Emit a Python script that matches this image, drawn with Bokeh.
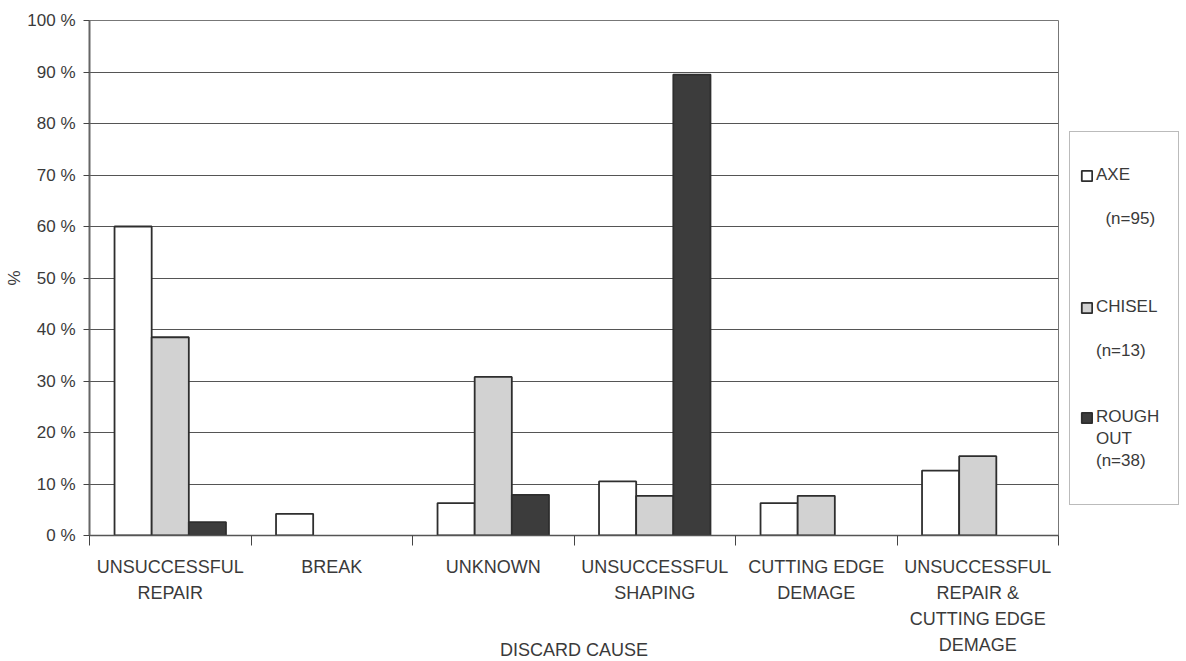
from bokeh.plotting import figure
from bokeh.models import (Range1d, FixedTicker, PrintfTickFormatter, Legend, LegendItem,
                          ColumnDataSource)
from bokeh.embed import file_html
from bokeh.resources import INLINE

# ---- data -------------------------------------------------------------
categories = ["UNSUCCESSFUL\nREPAIR", "BREAK", "UNKNOWN", "UNSUCCESSFUL\nSHAPING",
              "CUTTING EDGE\nDEMAGE", "UNSUCCESSFUL\nREPAIR &\nCUTTING EDGE\nDEMAGE"]
axe = [60.0, 4.2, 6.3, 10.5, 6.3, 12.6]       # AXE (n=95)
chisel = [38.5, 0.0, 30.8, 7.7, 7.7, 15.4]    # CHISEL (n=13)
rough = [2.6, 0.0, 7.9, 89.5, 0.0, 0.0]       # ROUGH OUT (n=38)
series_names = ["AXE", "CHISEL", "ROUGH"]
# legend text lines after each series name ("" = empty line)
series_notes = [["", "\u00a0\u00a0(n=95)", "", "", ""],
                ["", "(n=13)", "", ""],
                ["OUT", "(n=38)", ""]]
y_ticks = [0, 10, 20, 30, 40, 50, 60, 70, 80, 90, 100]
x_title = "DISCARD CAUSE"
y_title = "%"

FONT = "Liberation Sans"
TXT = "#3a3a3a"

p = figure(frame_width=969, frame_height=515, output_backend="svg", toolbar_location=None,
           x_range=Range1d(0, len(categories)), y_range=Range1d(0, 100),
           min_border_left=89, min_border_right=128, min_border_top=20, min_border_bottom=126)
p.background_fill_color = "white"
p.border_fill_color = "white"
p.outline_line_color = "#777777"
p.outline_line_width = 1

fills = ["white", "#d2d2d2", "#3c3c3c"]
series = [axe, chisel, rough]
offsets = [-0.23, 0.0, 0.23]
bar_w = 0.23
renderers = []
for vals, off, col in zip(series, offsets, fills):
    xs = [i + 0.5 + off for i, v in enumerate(vals) if v > 0]
    ys = [v for v in vals if v > 0]
    src = ColumnDataSource(dict(x=xs, top=ys))
    r = p.vbar(x="x", top="top", bottom=0, width=bar_w, source=src,
               fill_color=col, line_color="#2e2e2e", line_width=1.8)
    renderers.append(r)

# grid
p.xgrid.visible = False
p.ygrid.ticker = FixedTicker(ticks=y_ticks)
p.ygrid.grid_line_color = "#555555"
p.ygrid.grid_line_width = 1

# y axis
ya = p.yaxis[0]
ya.ticker = FixedTicker(ticks=y_ticks)
ya.formatter = PrintfTickFormatter(format="%d %%")
ya.major_label_text_font = FONT
ya.major_label_text_font_size = "17px"
ya.major_label_text_color = TXT
ya.major_tick_out = 6
ya.major_tick_in = 0
ya.minor_tick_out = 0
ya.minor_tick_in = 0
ya.major_tick_line_color = "#444444"
ya.axis_line_color = "#666666"
ya.axis_line_width = 2
ya.major_label_standoff = 8
ya.axis_label = y_title
ya.axis_label_text_font = FONT
ya.axis_label_text_font_size = "17px"
ya.axis_label_text_font_style = "normal"
ya.axis_label_text_color = TXT
ya.axis_label_standoff = 0

# x axis
xa = p.xaxis[0]
centers = [i + 0.5 for i in range(len(categories))]
bounds = [float(i) for i in range(len(categories) + 1)]
xa.ticker = FixedTicker(ticks=centers, minor_ticks=bounds)
xa.major_label_overrides = {c: lab for c, lab in zip(centers, categories)}
xa.major_label_text_font = FONT
xa.major_label_text_font_size = "18px"
xa.major_label_text_color = TXT
xa.major_label_text_line_height = 1.3
xa.major_tick_out = 0
xa.major_tick_in = 0
xa.minor_tick_out = 10
xa.minor_tick_in = 0
xa.minor_tick_line_color = "#444444"
xa.axis_line_color = "#555555"
xa.axis_line_width = 1.5
xa.major_label_standoff = 11
xa.axis_label = x_title
xa.axis_label_text_font = FONT
xa.axis_label_text_font_size = "18px"
xa.axis_label_text_font_style = "normal"
xa.axis_label_text_color = TXT
xa.axis_label_standoff = -18

items = [LegendItem(label="\u00a0", renderers=[])]
for name, notes, r in zip(series_names, series_notes, renderers):
    items.append(LegendItem(label=name, renderers=[r]))
    for line in notes:
        items.append(LegendItem(label=line if line else "\u00a0", renderers=[]))

legend = Legend(items=items, location=(11, 30))
legend.glyph_width = 13
legend.glyph_height = 13
legend.label_standoff = 3
legend.padding = 10
legend.spacing = 0
legend.label_width = 72
legend.label_height = 22
legend.label_text_font = FONT
legend.label_text_font_size = "17px"
legend.label_text_color = TXT
legend.border_line_color = "#777777"
legend.border_line_width = 1
legend.background_fill_color = "white"
legend.background_fill_alpha = 1
p.add_layout(legend, "right")

open("out.html", "w").write(file_html(p, INLINE))
